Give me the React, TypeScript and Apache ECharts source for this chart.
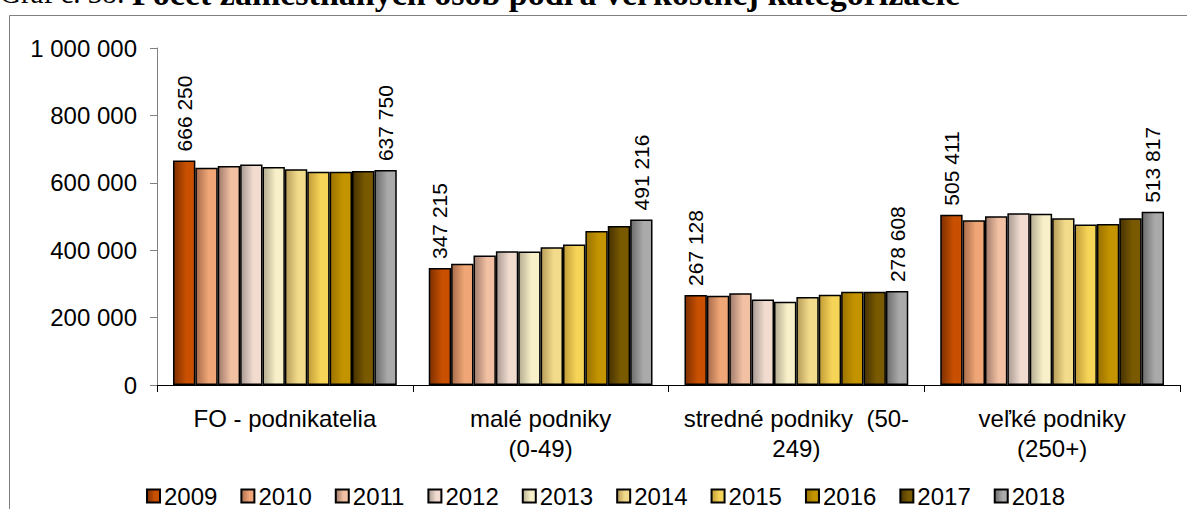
import React, { useEffect, useRef } from "react";
import * as echarts from "echarts";

const categories = [
  "FO - podnikatelia",
  "malé podniky\n(0-49)",
  "stredné podniky  (50-\n249)",
  "veľké podniky\n(250+)",
];
const years = ["2009", "2010", "2011", "2012", "2013", "2014", "2015", "2016", "2017", "2018"];

const v2009 = [666250, 347215, 267128, 505411];
const v2010 = [645000, 360000, 265000, 489000];
const v2011 = [650000, 384000, 272000, 501000];
const v2012 = [654000, 397000, 254000, 510000];
const v2013 = [647000, 396000, 247000, 508000];
const v2014 = [640000, 409000, 261000, 495000];
const v2015 = [633000, 417000, 268000, 476000];
const v2016 = [633000, 457000, 277000, 478000];
const v2017 = [635000, 472000, 277000, 495000];
const v2018 = [637750, 491216, 278608, 513817];
const seriesValues = [v2009, v2010, v2011, v2012, v2013, v2014, v2015, v2016, v2017, v2018];

const darkColors = ["#7e3000", "#a86c4c", "#a07c6c", "#a89a92", "#b4ac90", "#b89c58", "#c09c38", "#9a7200", "#463200", "#6c6c6c"];
const lightColors = ["#c85000", "#f0a676", "#f2c0a2", "#f2dcd0", "#f8f0c8", "#f2dc8c", "#f6d458", "#c49400", "#7a5a00", "#aaaaaa"];
const labeledYears = ["2009", "2018"];

const yTicks = { min: 0, max: 1000000, interval: 200000 };

const fmt = (n: number) => String(n).replace(/\B(?=(\d{3})+(?!\d))/g, " ");
const FONT = "'Liberation Sans', Arial, sans-serif";
const SERIF = "'Liberation Serif', 'Times New Roman', serif";

export default function App() {
  const ref = useRef<HTMLDivElement>(null);
  useEffect(() => {
    document.body.style.margin = "0";
    const chart = echarts.init(ref.current!, null, { renderer: "svg" });
    const series = years.map((y, i) => ({
      name: y,
      type: "bar",
      data: seriesValues[i],
      barGap: "0%",
      barCategoryGap: "12.5%",
      itemStyle: {
        color: new echarts.graphic.LinearGradient(0, 0, 1, 0, [
          { offset: 0, color: darkColors[i] },
          { offset: 0.6, color: lightColors[i] },
          { offset: 1, color: lightColors[i] },
        ]),
        borderColor: "#000",
        borderWidth: 1.5,
      },
      label: labeledYears.includes(y)
        ? {
            show: true,
            position: "top",
            rotate: 90,
            align: "left",
            verticalAlign: "middle",
            distance: 9,
            fontSize: 21,
            fontFamily: FONT,
            color: "#000",
            formatter: (p: any) => fmt(p.value),
          }
        : { show: false },
    }));
    chart.setOption({
      animation: false,
      backgroundColor: "#fff",
      graphic: [
        {
          type: "rect",
          shape: { x: 9.5, y: 15.5, width: 1300, height: 700 },
          style: { fill: "none", stroke: "#808080", lineWidth: 1 },
          silent: true,
        },
        {
          type: "text",
          x: 0,
          y: -7,
          style: {
            text: "{n|Graf č. 38: }{b|Počet zamestnaných osôb podľa veľkostnej kategorizácie}",
            verticalAlign: "middle",
            rich: {
              n: { fontFamily: SERIF, fontSize: 29, fill: "#000" },
              b: { fontFamily: SERIF, fontSize: 34, fontWeight: "bold", fill: "#000" },
            },
          },
        },
      ],
      grid: { left: 157, right: 7, top: 48, bottom: 124, containLabel: false },
      legend: {
        data: years,
        left: 146,
        top: 484,
        padding: 0,
        itemWidth: 13,
        itemHeight: 13,
        itemGap: 23,
        icon: "rect",
        textStyle: { fontSize: 24, fontFamily: FONT, color: "#000", lineHeight: 24, padding: [0, 0, 0, -1] },
      },
      xAxis: {
        type: "category",
        data: categories,
        axisLine: { lineStyle: { color: "#000", width: 1 } },
        axisTick: { show: true, length: 7, lineStyle: { color: "#000" } },
        axisLabel: { fontSize: 24, fontFamily: FONT, color: "#000", lineHeight: 30, margin: 18, interval: 0 },
      },
      yAxis: {
        type: "value",
        min: yTicks.min,
        max: yTicks.max,
        interval: yTicks.interval,
        splitLine: { show: false },
        axisLine: { show: true, lineStyle: { color: "#808080", width: 1 } },
        axisTick: { show: true, length: 7, lineStyle: { color: "#808080" } },
        axisLabel: { fontSize: 24, fontFamily: FONT, color: "#000", margin: 20, formatter: (v: number) => fmt(v) },
      },
      series,
    });
    return () => chart.dispose();
  }, []);
  return <div ref={ref} style={{ width: 1187, height: 509 }} />;
}
